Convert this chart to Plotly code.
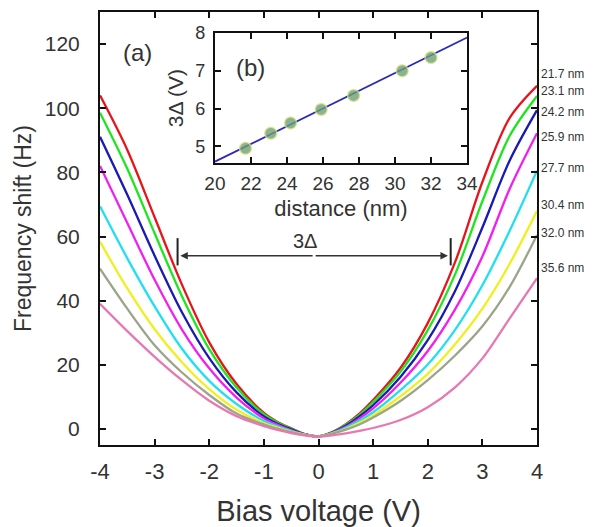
import plotly.graph_objects as go

# ---------------- data ----------------
bias_v = [-4, -3.5, -3, -2.5, -2, -1.5, -1, -0.75, -0.5, -0.25, 0,
          0.25, 0.5, 0.75, 1, 1.5, 2, 2.5, 3, 3.5, 4]

shift_21_7 = [104, 87, 66, 45, 27, 14, 5, 2.2, 0.2, -1.6, -2.3, -1.0, 1.5, 4.8, 9, 19, 33, 52, 77, 97, 107]
shift_23_1 = [98.6, 81.1, 61.0, 41.4, 24.9, 12.9, 4.6, 2.0, 0.1, -1.6, -2.3, -1.05, 1.3, 4.4, 8.4, 17.8, 30.8, 48.2, 71.0, 91.4, 103.8]
shift_24_2 = [91.1, 73.0, 54.0, 36.4, 22.1, 11.4, 3.9, 1.6, -0.1, -1.7, -2.3, -1.1, 1.0, 3.9, 7.4, 16.2, 27.7, 43.0, 62.8, 83.7, 99.4]
shift_25_9 = [82.0, 64.2, 46.5, 31.0, 18.9, 9.8, 3.3, 1.3, -0.4, -1.7, -2.3, -1.2, 0.7, 3.3, 6.4, 14.4, 24.3, 37.3, 53.8, 74.9, 92.2]
shift_27_7 = [69.4, 53.2, 38.2, 25.0, 15.0, 7.8, 2.5, 0.85, -0.6, -1.8, -2.3, -1.3, 0.4, 2.6, 5.2, 12.1, 20.1, 30.9, 44.8, 61.8, 80.5]
shift_30_4 = [58.4, 43.8, 31.1, 20.8, 12.4, 6.0, 1.8, 0.4, -0.9, -1.8, -2.3, -1.4, 0.0, 1.9, 4.2, 10.2, 17.2, 26.4, 37.5, 51.5, 68.0]
shift_32_0 = [50.0, 37.5, 26.1, 17.6, 10.6, 4.8, 1.4, 0.1, -1.0, -1.85, -2.3, -1.45, -0.2, 1.4, 3.55, 8.7, 15.2, 22.9, 32.0, 44.3, 60.5]
shift_35_6 = [39, 30.5, 22.5, 15.2, 8.8, 4.0, 0.9, -0.3, -1.3, -2.0, -2.4, -2.0, -1.4, -0.6, 0.3, 2.8, 6.8, 13.0, 22.0, 34.5, 47.0]

curve_labels = ["21.7 nm", "23.1 nm", "24.2 nm", "25.9 nm", "27.7 nm", "30.4 nm", "32.0 nm", "35.6 nm"]
label_y = [110.7, 105.4, 98.9, 90.9, 81.3, 69.8, 61.1, 50.2]

# inset (b)
distance_nm = [21.7, 23.1, 24.2, 25.9, 27.7, 30.4, 32.0]
three_delta = [4.95, 5.35, 5.62, 5.98, 6.35, 7.0, 7.35]
fit_x = [20, 34]
fit_y = [4.6, 7.88]

# 3Δ arrow
delta_left = -2.58
delta_right = 2.42
delta_level = 54

x_ticks = [-4, -3, -2, -1, 0, 1, 2, 3, 4]
x_tick_text = ["-4", "-3", "-2", "-1", "0", "1", "2", "3", "4"]
y_ticks = [0, 20, 40, 60, 80, 100, 120]
inset_x_ticks = [20, 22, 24, 26, 28, 30, 32, 34]
inset_y_ticks = [5, 6, 7, 8]

# ---------------- figure ----------------
series = [shift_21_7, shift_23_1, shift_24_2, shift_25_9, shift_27_7, shift_30_4, shift_32_0, shift_35_6]
colors = ["#e8141c", "#1ee61e", "#1a1ab4", "#f020f0", "#20e0f0", "#f0f01e", "#9aa58a", "#e878b0"]

fig = go.Figure()
for s, c, name in zip(series, colors, curve_labels):
    fig.add_trace(go.Scatter(x=bias_v, y=s, mode="lines", name=name,
                             line=dict(color=c, width=2.3, shape="spline", smoothing=0.9),
                             xaxis="x", yaxis="y", showlegend=False))

fig.add_trace(go.Scatter(x=fit_x, y=fit_y, mode="lines", line=dict(color="#2a2ab8", width=1.8),
                         xaxis="x2", yaxis="y2", showlegend=False))
fig.add_trace(go.Scatter(x=distance_nm, y=three_delta, mode="markers",
                         marker=dict(size=12, color="rgba(110,160,115,0.8)",
                                     line=dict(color="rgba(225,230,140,0.7)", width=1.5)),
                         xaxis="x2", yaxis="y2", showlegend=False))

font_main = "Liberation Sans, Arial, Helvetica, sans-serif"
axis_common = dict(showline=True, linewidth=2, linecolor="#111", mirror="ticks", ticks="inside",
                   ticklen=6, tickwidth=2, tickcolor="#111", showgrid=False, zeroline=False,
                   automargin=False)

# the page body has an 8 px margin, so the figure is made 8 px smaller and margins shifted
fig.update_layout(
    width=597, height=519,
    margin=dict(l=92, r=68, t=4, b=82),
    paper_bgcolor="white", plot_bgcolor="white",
    font=dict(family=font_main, color="#333"),
    xaxis=dict(range=[-4, 4], tickvals=x_ticks, ticktext=x_tick_text, domain=[0, 1], anchor="y",
               tickfont=dict(size=22, color="#333"), ticklabelstandoff=6,
               title=dict(text="Bias voltage (V)", font=dict(size=29, color="#333"), standoff=19),
               **axis_common),
    yaxis=dict(range=[-5, 130], tickvals=y_ticks, domain=[0, 1], anchor="x",
               tickfont=dict(size=21, color="#333"), ticklabelstandoff=14,
               title=dict(text="Frequency shift (Hz)", font=dict(size=23, color="#333"), standoff=7),
               **axis_common),
    xaxis2=dict(range=[20, 34], tickvals=inset_x_ticks, domain=[0.263, 0.840], anchor="y2",
                tickfont=dict(size=19, color="#333"), ticklabelstandoff=2,
                title=dict(text="distance (nm)", font=dict(size=22, color="#333"), standoff=8),
                **axis_common),
    yaxis2=dict(range=[4.56, 8], tickvals=inset_y_ticks, domain=[0.651, 0.9515], anchor="x2",
                tickfont=dict(size=18, color="#333"), ticklabelstandoff=4,
                title=dict(text="3Δ (V)", font=dict(size=21, color="#333"), standoff=6),
                **axis_common),
)

annotations = []
for txt, yv in zip(curve_labels, label_y):
    annotations.append(dict(x=1.005, xref="paper", y=yv, yref="y", text=txt, showarrow=False,
                            xanchor="left", yanchor="middle", font=dict(size=12, color="#333")))
annotations.append(dict(x=-3.32, y=117.5, xref="x", yref="y", text="(a)", showarrow=False,
                        font=dict(size=24, color="#333")))
annotations.append(dict(x=22.0, y=7.1, xref="x2", yref="y2", text="(b)", showarrow=False,
                        font=dict(size=24, color="#333")))
annotations.append(dict(x=-0.25, y=58.5, xref="x", yref="y", text="3Δ", showarrow=False,
                        font=dict(size=20, color="#333")))
# double-headed arrow
mid = (delta_left + delta_right) / 2
for end in (delta_left + 0.05, delta_right - 0.05):
    annotations.append(dict(x=end, y=delta_level, ax=mid, ay=delta_level, xref="x", yref="y",
                            axref="x", ayref="y", text="", showarrow=True, arrowhead=2,
                            arrowsize=1, arrowwidth=1.5, arrowcolor="#333"))
fig.update_layout(annotations=annotations)

for xv in (delta_left, delta_right):
    fig.add_shape(type="line", x0=xv, x1=xv, y0=delta_level - 3, y1=delta_level + 5.5,
                  xref="x", yref="y", line=dict(color="#222", width=2))

fig.write_html("out.html")
